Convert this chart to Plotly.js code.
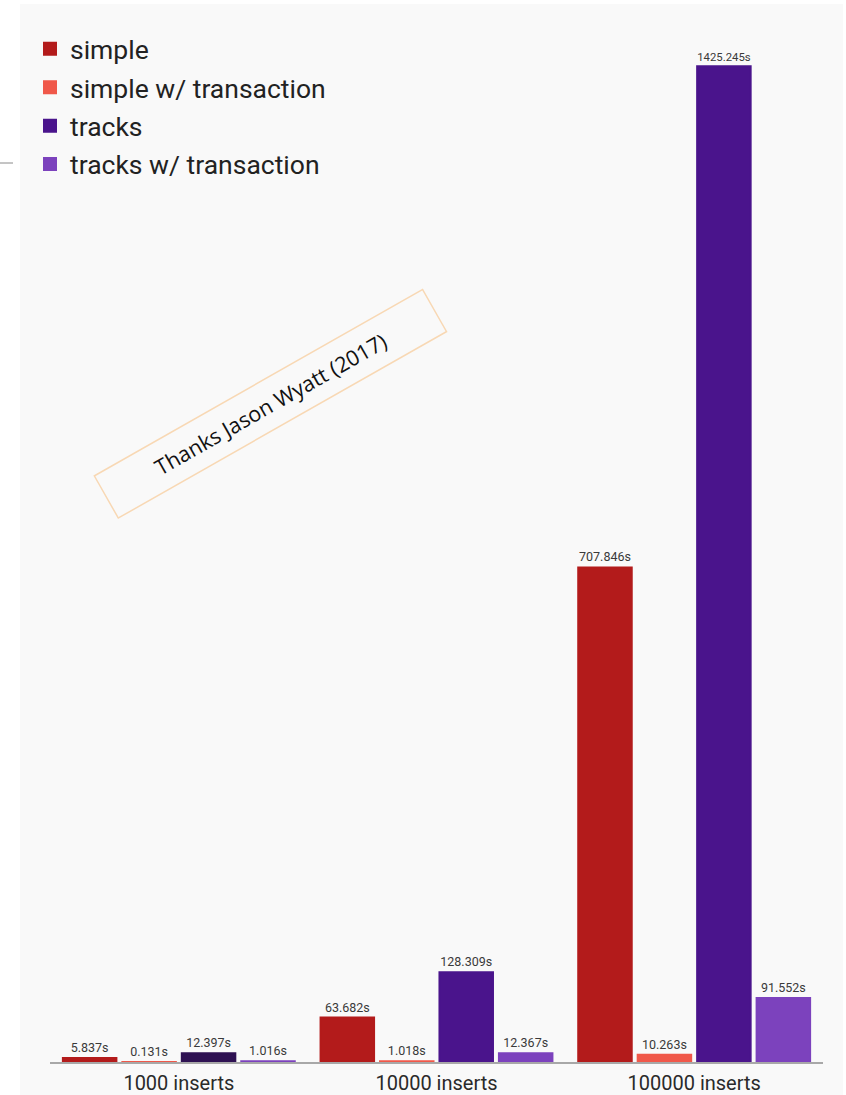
<!DOCTYPE html>
<html>
<head>
<meta charset="utf-8">
<script src="https://cdn.plot.ly/plotly-3.0.1.min.js"></script>
<style>html,body{margin:0;padding:0;background:#fff;}#chart{width:846px;height:1095px;}</style>
</head>
<body>
<div id="chart"></div>
<script>
// ---- data ----
const categories = ["1000 inserts", "10000 inserts", "100000 inserts"];
const seriesNames = ["simple", "simple w/ transaction", "tracks", "tracks w/ transaction"];
const simple = [5.837, 63.682, 707.846];
const simpleTx = [0.131, 1.018, 10.263];
const tracks = [12.397, 128.309, 1425.245];
const tracksTx = [1.016, 12.367, 91.552];
const watermark = "Thanks Jason Wyatt (2017)";

// ---- styles ----
const colors = ["#b31b1b", "#f0584a", "#4a148c", "#7c42bd"];
// the 1000-insert "tracks" bar is drawn darker in the reference
const tracksColors = ["#2e1152", "#4a148c", "#4a148c"];
const seriesValues = [simple, simpleTx, tracks, tracksTx];

const traces = seriesValues.map((vals, i) => {
  let xs = categories.slice(), ys = vals.slice();
  let col = colors[i];
  if (i === 2) {
    // list points from the largest category first so the legend swatch takes the main colour
    xs = xs.reverse(); ys = ys.reverse(); col = tracksColors.slice().reverse();
  }
  return {
    type: "bar",
    name: seriesNames[i],
    legendgroup: "g" + i,
    x: xs,
    y: ys,
    marker: {color: col, line: {color: col, width: 2}},
    texttemplate: "%{y:.3f}s",
    textposition: "outside",
    cliponaxis: false,
    textfont: {family: "Roboto, sans-serif", size: 12.5, color: "#3a3a3a"},
    hoverinfo: "x+y+name"
  };
});

// geometry helpers (plot area: x 50..823, y 14..1062)
const L = 50, R = 823, T = 14, B = 1062;
const W = R - L, H = B - T;
const px = v => (v - L) / W;
const py = v => (B - v) / H;

const layout = {
  width: 846,
  height: 1095,
  margin: {l: L, r: 846 - R, t: T, b: 1095 - B, pad: 0},
  paper_bgcolor: "#ffffff",
  plot_bgcolor: "rgba(0,0,0,0)",
  barmode: "group",
  bargap: 0.077,
  bargroupgap: 0.1,
  showlegend: true,
  legend: {
    x: px(30), y: py(25), xanchor: "left", yanchor: "top",
    xref: "paper", yref: "paper",
    bgcolor: "rgba(0,0,0,0)",
    font: {family: "Roboto, sans-serif", size: 26.5, color: "#222"},
    tracegroupgap: 1,
    itemclick: false
  },
  xaxis: {
    type: "category",
    categoryorder: "array", categoryarray: categories,
    showline: true, linecolor: "#a8a8a8", linewidth: 2,
    ticks: "", showgrid: false, zeroline: false,
    tickfont: {family: "Roboto, sans-serif", size: 20, color: "#2a2a2a"},
    ticklabelstandoff: 2
  },
  yaxis: {
    range: [0, 1500],
    showticklabels: false, showgrid: false, zeroline: false, showline: false, ticks: ""
  },
  shapes: [
    {type: "rect", xref: "paper", yref: "paper", layer: "below",
     x0: px(20), x1: px(843), y0: py(1095), y1: py(4),
     fillcolor: "#f9f9f9", line: {width: 0}},
    {type: "line", xref: "paper", yref: "paper",
     x0: px(0), x1: px(13), y0: py(163), y1: py(163),
     line: {color: "#8a8a8a", width: 1}}
  ],
  annotations: [
    {text: watermark, xref: "paper", yref: "paper",
     x: px(270), y: py(404), xanchor: "center", yanchor: "middle",
     showarrow: false, textangle: -29.6,
     width: 376, height: 47, align: "center", valign: "middle",
     bordercolor: "#f8d8b4", borderwidth: 1.5, borderpad: 0,
     font: {family: "'Open Sans', 'Noto Sans', sans-serif", size: 21.5, color: "#111"}}
  ]
};

Plotly.newPlot("chart", traces, layout, {staticPlot: true, displayModeBar: false});
</script>
</body>
</html>
